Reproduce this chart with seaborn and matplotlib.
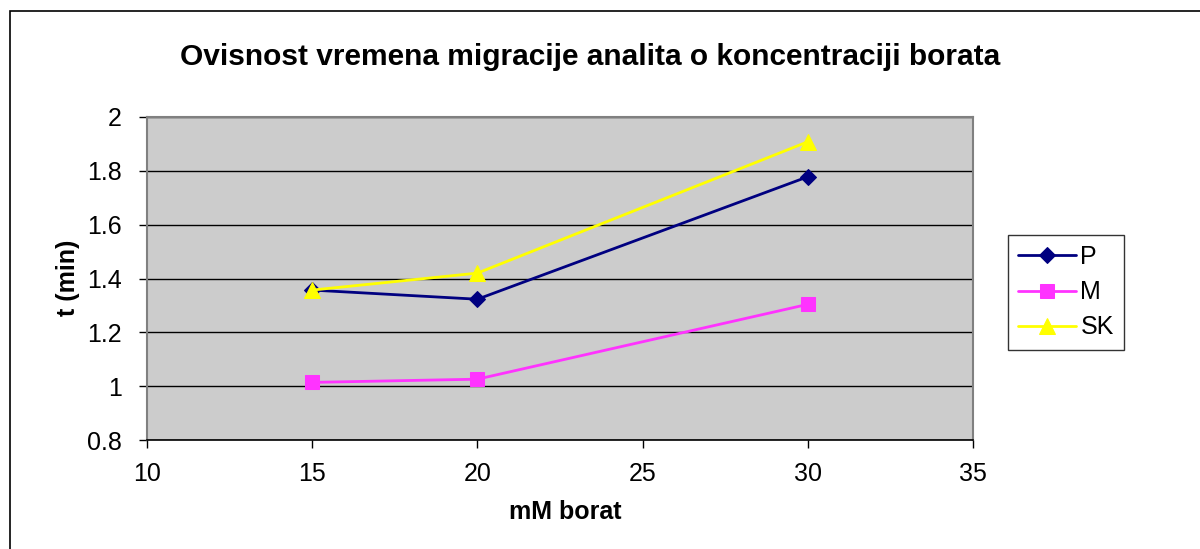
import pandas as pd
import numpy as np
import matplotlib
matplotlib.use("Agg")
import matplotlib.pyplot as plt
import seaborn as sns
from matplotlib.patches import Rectangle

# data
borat = [15, 20, 30]
p_vals = [1.357, 1.323, 1.778]
m_vals = [1.014, 1.026, 1.304]
sk_vals = [1.357, 1.42, 1.908]
series_names = ["P", "M", "SK"]

title = "Ovisnost vremena migracije analita o koncentraciji borata"
x_label = "mM borat"
y_label = "t (min)"
x_ticks = [10, 15, 20, 25, 30, 35]
y_ticks = [0.8, 1.0, 1.2, 1.4, 1.6, 1.8, 2.0]
y_tick_labels = ["0.8", "1", "1.2", "1.4", "1.6", "1.8", "2"]

df = pd.DataFrame({
    "borat": borat * 3,
    "t": p_vals + m_vals + sk_vals,
    "serija": [n for n in series_names for _ in borat],
})

sns.set_style("white")
plt.rcParams["font.family"] = ["Liberation Sans", "DejaVu Sans"]
plt.rcParams["text.color"] = "black"
plt.rcParams["xtick.color"] = "black"
plt.rcParams["ytick.color"] = "black"

colors = {"P": "#000080", "M": "#FF33FF", "SK": "#FFFF00"}
markers = {"P": "D", "M": "s", "SK": "^"}
msizes = {"P": 8.5, "M": 10.5, "SK": 11.5}

fig = plt.figure(figsize=(12, 5.49), dpi=100)
ax = fig.add_axes([147 / 1200, 1 - 440 / 549, (973 - 147) / 1200, (440 - 117) / 549])
ax.set_facecolor("#CCCCCC")

for name in series_names:
    sub = df[df["serija"] == name]
    sns.lineplot(data=sub, x="borat", y="t", ax=ax, color=colors[name],
                 marker=markers[name], markersize=msizes[name],
                 markeredgecolor=colors[name], linewidth=2, label=name,
                 legend=False)

ax.set_xlim(10, 35)
ax.set_ylim(0.8, 2.0)
ax.set_xticks(x_ticks)
ax.set_yticks(y_ticks)
ax.set_xticklabels([str(v) for v in x_ticks])
ax.set_yticklabels(y_tick_labels)
ax.yaxis.grid(True, color="black", linewidth=1)
ax.set_axisbelow(True)
for side in ["left", "right", "top"]:
    ax.spines[side].set_color("#808080")
    ax.spines[side].set_linewidth(1.5)
ax.spines["bottom"].set_color("black")
ax.spines["bottom"].set_linewidth(1.2)
ax.tick_params(axis="both", direction="out", length=6, width=1, color="black",
               labelcolor="black", labelsize=18, left=True, bottom=True)
ax.tick_params(axis="y", pad=12)
ax.tick_params(axis="x", pad=10)

ax.set_xlabel("")
ax.set_ylabel("")
fig.text(565 / 1200, 1 - 512 / 549, x_label, ha="center", va="center",
         fontsize=18, fontweight="bold", color="black")
fig.text(68 / 1200, 1 - 278 / 549, y_label, ha="center", va="center",
         fontsize=18, fontweight="bold", rotation=90, color="black")
fig.text(590 / 1200, 1 - 57 / 549, title, ha="center", va="center",
         fontsize=21.5, fontweight="bold", color="black")

handles, labels = ax.get_legend_handles_labels()
leg = fig.legend(handles, labels, loc="upper left",
                 bbox_to_anchor=(1008 / 1200, 1 - 235 / 549),
                 frameon=True, fancybox=False, edgecolor="black",
                 fontsize=18, borderaxespad=0, handlelength=2.3,
                 labelspacing=0.45, borderpad=0.4, handletextpad=0.2)
leg.get_frame().set_linewidth(1)
for txt in leg.get_texts():
    txt.set_color("black")

# outer chart border (cut off at right and bottom like the reference)
fig.patches.append(Rectangle((10 / 1200, -0.1), 1.2, 1.1 - 11 / 549,
                             transform=fig.transFigure, fill=False,
                             edgecolor="black", linewidth=1.2))

fig.savefig("out.png", dpi=100)
